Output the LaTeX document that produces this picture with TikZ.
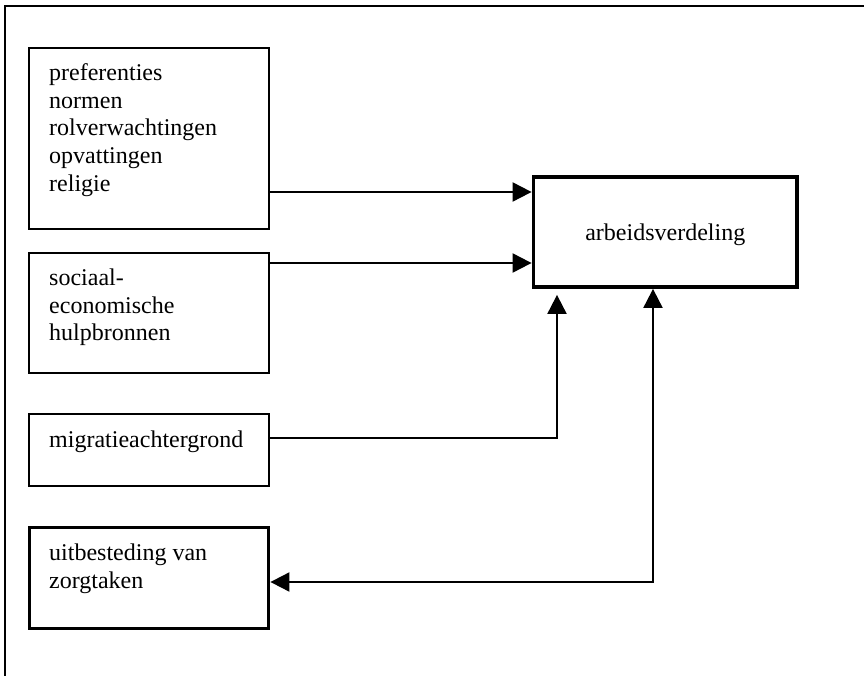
\documentclass[tikz,border=0pt]{standalone}
\usepackage{fontspec}
\setmainfont{Liberation Serif}
\usetikzlibrary{arrows.meta}

\begin{document}
\begin{tikzpicture}[x=1pt, y=-1pt, >={Triangle[length=19pt, width=19pt]},
    box/.style={draw, line width=2pt, inner sep=0pt},
    thickbox/.style={draw, line width=3.8pt, inner sep=0pt},
    txt/.style={anchor=north west, inner sep=0pt, align=left, font=\fontsize{24}{27.7}\selectfont},
    arr/.style={line width=2pt}]
    \useasboundingbox (0, 0) rectangle (864, 676);

    \draw[line width=2pt] (5, 676) -- (5, 6) -- (864, 6);

    \node[box, minimum width=240pt, minimum height=181pt] (pref) at (149, 138.5) {};
    \node[box, minimum width=240pt, minimum height=120pt] (soc) at (149, 313) {};
    \node[box, minimum width=240pt, minimum height=72pt] (mig) at (149, 450) {};
    \node[thickbox, minimum width=239pt, minimum height=101pt] (uit) at (149, 578) {};
    \node[thickbox, minimum width=263.5pt, minimum height=110pt, text depth=0pt,
          font=\fontsize{24}{27.7}\selectfont] (arb) at (665.25, 232) {arbeidsverdeling};

    \node[txt] (preftext) at (49, 63.5) {preferenties\\normen\\rolverwachtingen\\opvattingen\\religie};
    \node[txt] (soctext) at (49, 268.5) {sociaal-\\economische\\hulpbronnen};
    \node[txt] (migtext) at (49, 430.5) {migratieachtergrond};
    \node[txt] (uittext) at (49, 543.5) {uitbesteding van\\zorgtaken};

    \coordinate (k1) at (557, 438);
    \coordinate (k2) at (653, 582);

    \draw[arr, ->] (pref.east |- 0, 192) -- (arb.west |- 0, 192);
    \draw[arr, ->] (soc.east |- 0, 263) -- (arb.west |- 0, 263);
    \draw[arr, ->] (mig.east |- k1) -- (k1) -- ([yshift=-6pt]arb.south -| k1);
    \draw[arr, <->] (uit.east |- k2) -- (k2) -- (arb.south -| k2);
\end{tikzpicture}
\end{document}
